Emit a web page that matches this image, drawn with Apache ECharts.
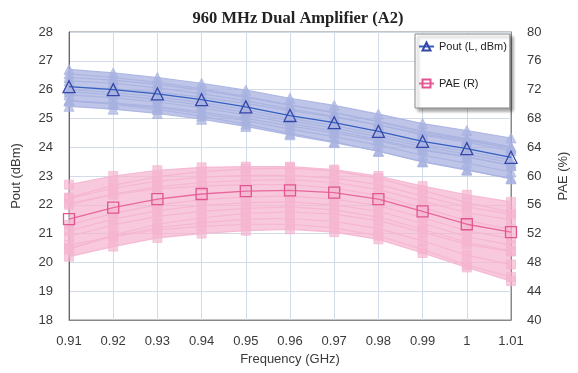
<!DOCTYPE html>
<html><head><meta charset="utf-8">
<script src="https://cdn.jsdelivr.net/npm/echarts@6/dist/echarts.min.js"></script>
<style>html,body{margin:0;padding:0;background:#fff}#c{width:578px;height:373px}</style>
</head><body><div id="c"></div>
<script>
const categories = ['0.91','0.92','0.93','0.94','0.95','0.96','0.97','0.98','0.99','1','1.01'];
const poutMain = [26.1,26.0,25.85,25.65,25.4,25.1,24.85,24.55,24.2,23.95,23.65];
const paeMain  = [54.0,55.6,56.8,57.5,57.9,58.0,57.7,56.8,55.1,53.3,52.2];

const poutRuns = [
 [26.70,26.58,26.42,26.22,25.98,25.70,25.45,25.15,24.82,24.58,24.32],
 [26.55,26.42,26.25,26.03,25.76,25.47,25.20,24.88,24.52,24.26,23.96],
 [26.42,26.33,26.18,25.98,25.73,25.45,25.20,24.90,24.56,24.30,24.02],
 [26.30,26.22,26.06,25.86,25.61,25.33,25.07,24.77,24.43,24.17,23.88],
 [26.10,26.03,25.91,25.74,25.52,25.27,25.04,24.77,24.46,24.23,23.97],
 [26.00,25.90,25.75,25.55,25.30,25.00,24.75,24.45,24.10,23.85,23.55],
 [25.92,25.82,25.66,25.46,25.21,24.92,24.66,24.36,24.02,23.76,23.46],
 [25.82,25.72,25.57,25.37,25.12,24.83,24.57,24.27,23.93,23.67,23.36],
 [25.60,25.53,25.41,25.23,25.00,24.74,24.50,24.22,23.90,23.65,23.38],
 [25.62,25.52,25.37,25.17,24.92,24.63,24.37,24.07,23.72,23.45,23.14],
 [25.62,25.49,25.31,25.08,24.80,24.48,24.19,23.86,23.49,23.20,22.92],
 [25.42,25.32,25.17,24.97,24.72,24.43,24.16,23.86,23.50,23.22,22.90]
];
const paeRuns = [
 [58.8,60.0,60.8,61.2,61.3,61.3,60.9,60.0,58.6,57.4,56.4],
 [57.0,58.7,59.9,60.6,61.0,61.1,60.7,59.7,58.0,56.3,55.0],
 [56.9,58.3,59.3,59.8,60.1,60.1,59.7,58.8,57.2,55.7,54.7],
 [56.0,57.5,58.5,59.1,59.4,59.5,59.1,58.1,56.5,54.9,53.9],
 [56.2,57.4,58.2,58.6,58.8,58.8,58.3,57.3,55.6,53.8,52.6],
 [53.2,54.8,56.0,56.7,57.1,57.2,56.8,55.9,54.2,52.4,51.3],
 [52.4,54.0,55.2,55.9,56.3,56.4,56.0,55.1,53.4,51.6,50.4],
 [51.6,53.2,54.4,55.1,55.5,55.7,55.3,54.3,52.6,50.8,49.6],
 [49.8,51.8,53.3,54.2,54.8,55.0,54.7,53.8,52.2,50.5,49.5],
 [50.0,51.6,52.8,53.5,54.0,54.1,53.7,52.7,51.0,49.0,47.7],
 [50.4,51.6,52.5,53.0,53.3,53.3,52.8,51.7,49.8,47.6,46.0],
 [48.8,50.2,51.4,52.0,52.4,52.6,52.2,51.2,49.3,47.3,45.4]
];

const BLUE_L = '#a8b2e0', PINK_L = '#f5b5d0';
const series = [];
function band(runs, yIdx, color, name){
  const lo = runs[runs.length-1], hi = runs[0];
  series.push({type:'line', yAxisIndex:yIdx, stack:name, data:lo, symbol:'none', lineStyle:{opacity:0}, silent:true, z:1});
  series.push({type:'line', yAxisIndex:yIdx, stack:name, data:hi.map((v,i)=>+(v-lo[i]).toFixed(3)), symbol:'none', lineStyle:{opacity:0}, areaStyle:{color:color, opacity:0.75}, silent:true, z:1});
}
function runs(rs, yIdx, color, sym, size){
  rs.forEach(r=>series.push({type:'line', yAxisIndex:yIdx, data:r, symbol:sym, symbolSize:size,
    lineStyle:{color:color, width:1.2, opacity:0.9}, itemStyle:{color:color, borderColor:color, opacity:0.7}, silent:true, z:2}));
}
band(paeRuns,1,PINK_L,'pae');
runs(paeRuns,1,PINK_L,'rect',9);
band(poutRuns,0,BLUE_L,'pout');
runs(poutRuns,0,BLUE_L,'triangle',10);
series.push({name:'PAE (R)', type:'line', yAxisIndex:1, data:paeMain, symbol:'rect', symbolSize:11,
  lineStyle:{color:'#e8679d', width:1.3}, itemStyle:{color:'rgba(255,255,255,0)', borderColor:'#e05590', borderWidth:1.3}, z:5});
series.push({name:'Pout (L, dBm)', type:'line', yAxisIndex:0, data:poutMain, symbol:'triangle', symbolSize:12,
  lineStyle:{color:'#3560c0', width:1.3}, itemStyle:{color:'rgba(255,255,255,0)', borderColor:'#3447a8', borderWidth:1.3}, z:5});

const chart = echarts.init(document.getElementById('c'), null, {renderer:'canvas'});
const lab = {fontFamily:'Liberation Sans, Arial, sans-serif', fontSize:13, color:'#3a3a3a'};
chart.setOption({
  animation:false,
  title:{text:'960 MHz Dual Amplifier (A2)', left:293, top:5, textAlign:'center',
    textStyle:{fontFamily:'Liberation Serif, Times New Roman, serif', fontWeight:'bold', fontSize:16.5, color:'#222'}},
  grid:{left:69, right:61, top:32, bottom:53, show:true, borderColor:'#888', borderWidth:1, backgroundColor:'transparent'},
  legend:{data:['Pout (L, dBm)','PAE (R)'], orient:'vertical', left:415, top:34, itemGap:26, itemWidth:15, itemHeight:10,
    padding:[7,3,19,3], backgroundColor:'#fff', borderColor:'#888', borderWidth:1,
    shadowColor:'rgba(0,0,0,0.35)', shadowOffsetX:3, shadowOffsetY:3, shadowBlur:3,
    textStyle:{fontFamily:'Liberation Sans, Arial, sans-serif', fontSize:11, color:'#222'}},
  xAxis:{type:'category', data:categories, boundaryGap:false, name:'Frequency (GHz)', nameLocation:'middle', nameGap:32,
    nameTextStyle:lab, axisLabel:Object.assign({margin:15},lab),
    axisLine:{lineStyle:{color:'#888'}}, axisTick:{show:false},
    splitLine:{show:true, lineStyle:{color:'#d3dbe8', width:1}}},
  yAxis:[
    {type:'value', min:18, max:28, interval:1, name:'Pout (dBm)', nameLocation:'middle', nameGap:46, nameRotate:90,
      nameTextStyle:lab, axisLabel:Object.assign({margin:16},lab), axisLine:{show:true, lineStyle:{color:'#666'}}, axisTick:{show:false},
      splitLine:{show:true, lineStyle:{color:'#d3dbe8'}}},
    {type:'value', min:40, max:80, interval:4, name:'PAE (%)', nameLocation:'middle', nameGap:46, nameRotate:90,
      nameTextStyle:lab, axisLabel:Object.assign({margin:16},lab), axisLine:{show:true, lineStyle:{color:'#888'}}, axisTick:{show:false},
      splitLine:{show:false}}
  ],
  series:series
});
</script></body></html>
